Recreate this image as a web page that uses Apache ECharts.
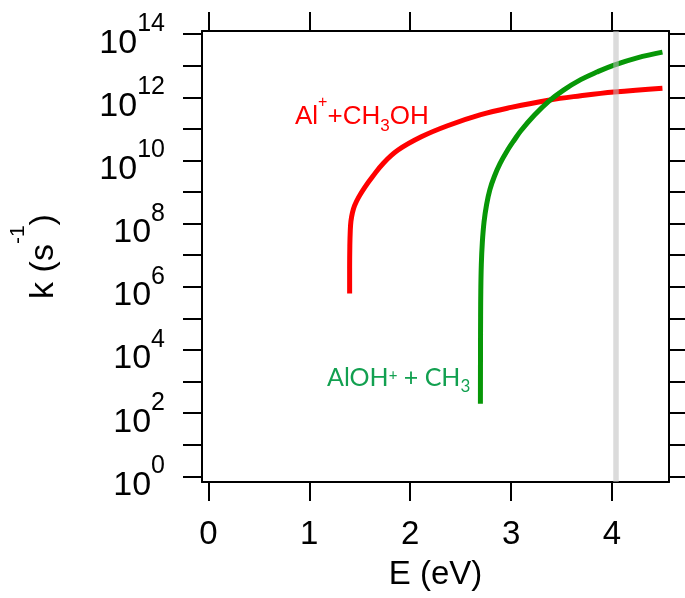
<!DOCTYPE html>
<html>
<head>
<meta charset="utf-8">
<script src="https://cdn.jsdelivr.net/npm/echarts@6/dist/echarts.min.js"></script>
<style>
  html, body { margin: 0; padding: 0; background: #fff; }
  #chart { width: 685px; height: 598px; }
</style>
</head>
<body>
<div id="chart"></div>
<script>
  // axis ticks (E in eV, exponent of k in s^-1)
  var X_TICKS = [0, 1, 2, 3, 4];
  var Y_TICKS = [0, 1, 2, 3, 4, 5, 6, 7, 8, 9, 10, 11, 12, 13, 14];
  var Y_LABELS = [0, 2, 4, 6, 8, 10, 12, 14];

  // Al+ + CH3OH channel: E (eV) and log10 k
  var RED_E    = [1.400, 1.400, 1.402, 1.406, 1.413, 1.428, 1.45, 1.49, 1.55, 1.63, 1.73, 1.88, 2.11, 2.37, 2.70, 3.00, 3.37, 3.69, 4.02, 4.50];
  var RED_LOGK = [5.79, 6.60, 7.30, 7.75, 8.08, 8.35, 8.58, 8.84, 9.15, 9.50, 9.90, 10.33, 10.75, 11.10, 11.45, 11.68, 11.91, 12.05, 12.17, 12.29];

  // AlOH+ + CH3 channel
  var GREEN_E    = [2.696, 2.697, 2.698, 2.700, 2.705, 2.715, 2.732, 2.757, 2.79, 2.835, 2.89, 2.966, 3.03, 3.097, 3.23, 3.375, 3.52, 3.69, 3.85, 4.02, 4.25, 4.50];
  var GREEN_LOGK = [2.30, 4.00, 5.05, 5.90, 6.70, 7.40, 8.05, 8.60, 9.08, 9.50, 9.90, 10.33, 10.64, 10.94, 11.43, 11.88, 12.23, 12.56, 12.80, 13.02, 13.25, 13.43];

  var BAND_E = 4.04;

  var FONT = "'Liberation Sans', Arial, sans-serif";
  function pairs(xs, ys) { return xs.map(function (x, i) { return [x, ys[i]]; }); }

  var tickStyle = { color: "#000", width: 2 };
  var frame = { show: true, onZero: false, lineStyle: { color: "#000", width: 2 } };

  var chart = echarts.init(document.getElementById("chart"));
  chart.setOption({
    animation: false,
    backgroundColor: "#fff",
    grid: { left: 199, right: 16, top: 31, bottom: 116 },
    xAxis: [{
      type: "value", min: -0.063, max: 4.565, position: "bottom",
      axisLine: frame,
      axisTick: { show: true, inside: false, length: 19, lineStyle: tickStyle, customValues: X_TICKS },
      axisLabel: { customValues: X_TICKS, margin: 36, fontSize: 33, color: "#000", fontFamily: FONT },
      splitLine: { show: false },
      name: "E (eV)", nameLocation: "middle", nameGap: 76,
      nameTextStyle: { fontSize: 33, color: "#000", fontFamily: FONT }
    }, {
      type: "value", min: -0.063, max: 4.565, position: "top",
      axisLine: frame,
      axisTick: { show: true, inside: false, length: 19, lineStyle: tickStyle, customValues: X_TICKS },
      axisLabel: { show: false }, splitLine: { show: false }
    }],
    yAxis: [{
      type: "value", min: -0.18, max: 14.1, position: "left",
      axisLine: frame,
      axisTick: { show: true, inside: false, length: 19, lineStyle: tickStyle, customValues: Y_TICKS },
      axisLabel: {
        customValues: Y_LABELS, margin: 37, color: "#000",
        formatter: function (v) { return "{b|10}{s|" + v + "}"; },
        rich: {
          b: { fontSize: 34, fontFamily: FONT, color: "#000", padding: [18, 0, 0, 0] },
          s: { fontSize: 25, fontFamily: FONT, color: "#000", padding: [0, 0, 20, 0] }
        }
      },
      splitLine: { show: false },
      name: "{m|k (s}{u|-1}{m|)}", nameLocation: "middle", nameGap: 123,
      nameTextStyle: {
        rich: {
          m: { fontSize: 34, fontFamily: FONT, color: "#000" },
          u: { fontSize: 21, fontFamily: FONT, color: "#000", padding: [0, 0, 50, 0] }
        }
      }
    }, {
      type: "value", min: -0.18, max: 14.1, position: "right",
      axisLine: frame,
      axisTick: { show: true, inside: false, length: 19, lineStyle: tickStyle, customValues: Y_TICKS },
      axisLabel: { show: false }, splitLine: { show: false }
    }],
    series: [{
      name: "Al+ + CH3OH", type: "line", data: pairs(RED_E, RED_LOGK),
      smooth: 0.4, symbol: "none", lineStyle: { color: "#ff0000", width: 5 }
    }, {
      name: "AlOH+ + CH3", type: "line", data: pairs(GREEN_E, GREEN_LOGK),
      smooth: 0.4, symbol: "none", lineStyle: { color: "#079707", width: 5 },
      markLine: {
        silent: true, symbol: "none", label: { show: false },
        lineStyle: { color: "rgba(190,190,190,0.55)", width: 5.5, type: "solid" },
        data: [{ xAxis: BAND_E }]
      }
    }],
    graphic: [{
      type: "text", x: 295, y: 117,
      style: {
        text: "{m|Al}{p|+}{m|+CH}{d|3}{m|OH}", verticalAlign: "middle",
        rich: {
          m: { fontSize: 26, fontFamily: FONT, fill: "#ff0000" },
          p: { fontSize: 16, fontFamily: FONT, fill: "#ff0000", padding: [0, 0, 28, 0] },
          d: { fontSize: 17, fontFamily: FONT, fill: "#ff0000", padding: [18, 0, 0, 0] }
        }
      }
    }, {
      type: "text", x: 327, y: 378,
      style: {
        text: "{m|AlOH}{p|+}{m| + CH}{d|3}", verticalAlign: "middle",
        rich: {
          m: { fontSize: 25, fontFamily: "Lato, sans-serif", fill: "#12a050" },
          p: { fontSize: 15, fontFamily: "Lato, sans-serif", fill: "#12a050", padding: [0, 0, 6, 0] },
          d: { fontSize: 17, fontFamily: "Lato, sans-serif", fill: "#12a050", padding: [18, 0, 0, 0] }
        }
      }
    }]
  });
</script>
</body>
</html>
